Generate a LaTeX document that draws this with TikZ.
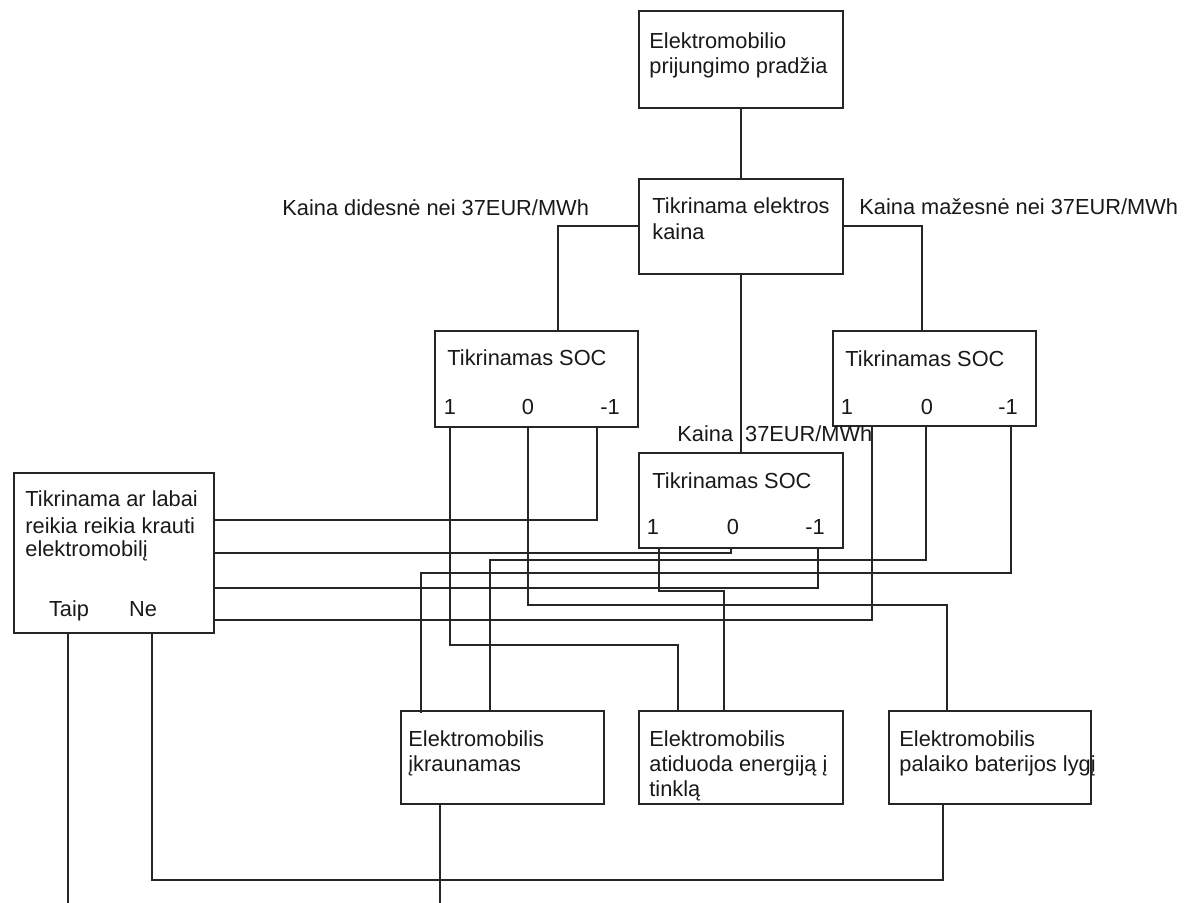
\documentclass[tikz,border=0pt]{standalone}
\usepackage{fontspec}
\setmainfont{Liberation Sans}
\newcommand\fs{\fontsize{10.9}{12.5}\selectfont}
\tikzset{
 box/.style={draw=black!85,line width=0.8pt,inner sep=0pt,anchor=north west},
 wire/.style={draw=black!85,line width=0.8pt},
 txt/.style={anchor=base west,inner sep=0pt,font=\fs,text=black!90},
 ctr/.style={anchor=base,inner sep=0pt,font=\fs,text=black!90}
}
\begin{document}
\begin{tikzpicture}[x=0.5pt,y=-0.5pt]
\useasboundingbox (0,0) rectangle (1191,903);
% boxes
\node (A)  [box,minimum width=102pt,minimum height=48.5pt] at (638,10) {};
\node (B)  [box,minimum width=102pt,minimum height=47.5pt] at (638,178) {};
\node (S1) [box,minimum width=101.5pt,minimum height=48pt] at (434,330) {};
\node (S3) [box,minimum width=101.5pt,minimum height=47.5pt] at (832,330) {};
\node (S2) [box,minimum width=102pt,minimum height=47.5pt] at (638,452) {};
\node (L)  [box,minimum width=100pt,minimum height=80pt] at (13,472) {};
\node (C1) [box,minimum width=101.5pt,minimum height=46.5pt] at (400,710) {};
\node (C2) [box,minimum width=102pt,minimum height=46.5pt] at (638,710) {};
\node (C3) [box,minimum width=101pt,minimum height=46.5pt] at (888,710) {};
% texts
\node (tA1) [txt] at (649,49) {Elektromobilio};
\node (tA2) [txt] at (649,74) {prijungimo pradžia};
\node (tB1) [txt] at (652,214) {Tikrinama elektros};
\node (tB2) [txt] at (652,240) {kaina};
\node (kd) [txt] at (282,216) {Kaina didesnė nei 37EUR/MWh};
\node (km) [txt] at (859,215) {Kaina mažesnė nei 37EUR/MWh};
\node (ke) [txt] at (677,442) {Kaina\hspace{6pt}37EUR/MWh};
\node (tS1) [txt] at (447,366) {Tikrinamas SOC};
\node (d11) [ctr] at (450,415) {1};
\node (d10) [ctr] at (528,415) {0};
\node (d1m) [ctr] at (610,415) {-1};
\node (tS2) [txt] at (652,489) {Tikrinamas SOC};
\node (d21) [ctr] at (653,535) {1};
\node (d20) [ctr] at (733,535) {0};
\node (d2m) [ctr] at (815,535) {-1};
\node (tS3) [txt] at (845,367) {Tikrinamas SOC};
\node (d31) [ctr] at (847,415) {1};
\node (d30) [ctr] at (927,415) {0};
\node (d3m) [ctr] at (1008,415) {-1};
\node (tL1) [txt] at (25,507) {Tikrinama ar labai};
\node (tL2) [txt] at (25,534) {reikia reikia krauti};
\node (tL3) [txt] at (25,557) {elektromobilį};
\node (taip) [ctr] at (69,617) {Taip};
\node (ne) [ctr] at (143,617) {Ne};
\node (tC11) [txt] at (408,747) {Elektromobilis};
\node (tC12) [txt] at (408,772) {įkraunamas};
\node (tC21) [txt] at (649,747) {Elektromobilis};
\node (tC22) [txt] at (649,772) {atiduoda energiją į};
\node (tC23) [txt] at (649,797) {tinklą};
\node (tC31) [txt] at (899,747) {Elektromobilis};
\node (tC32) [txt] at (899,772) {palaiko baterijos lygį};
% ports
\coordinate (S1in) at (558,330);
\coordinate (S3in) at (922,330);
\coordinate (S1p1) at (450,426);
\coordinate (S1p0) at (528,426);
\coordinate (S1pm) at (597,426);
\coordinate (S2p1) at (659,547);
\coordinate (S2p0) at (731,547);
\coordinate (S2pm) at (818,547);
\coordinate (S3p1) at (872,425);
\coordinate (S3p0) at (926,425);
\coordinate (S3pm) at (1011,425);
\coordinate (Lin1) at (213,520);
\coordinate (Lin2) at (213,553);
\coordinate (Lin3) at (213,588);
\coordinate (Lin4) at (213,620);
\coordinate (C1a) at (421,713);
\coordinate (C1b) at (490,710);
\coordinate (C2a) at (678,710);
\coordinate (C2b) at (724,710);
\coordinate (C3a) at (947,710);
\coordinate (C3b) at (943,803);
\coordinate (C1o) at (440,803);
\coordinate (Lt) at (68,632);
\coordinate (Ln) at (152,632);
\coordinate (endT) at (68,903);
\coordinate (endC) at (440,903);
% connectors
\draw[wire] (A.south) -- (B.north);
\draw[wire] (B.west) -| (S1in);
\draw[wire] (B.east) -| (S3in);
\draw[wire] (B.south) -- (S2.north);
\draw[wire] (S1p1) |- (678,645) -- (C2a);
\draw[wire] (S1p0) |- (947,605) -- (C3a);
\draw[wire] (S1pm) |- (Lin1);
\draw[wire] (S2p1) |- (724,591) -- (C2b);
\draw[wire] (S2p0) |- (Lin2);
\draw[wire] (S2pm) |- (Lin3);
\draw[wire] (S3p1) |- (Lin4);
\draw[wire] (S3p0) |- (490,560) -- (C1b);
\draw[wire] (S3pm) |- (421,573) -- (C1a);
\draw[wire] (Lt) -- (endT);
\draw[wire] (Ln) |- (943,880) -- (C3b);
\draw[wire] (C1o) -- (endC);
\end{tikzpicture}
\end{document}
